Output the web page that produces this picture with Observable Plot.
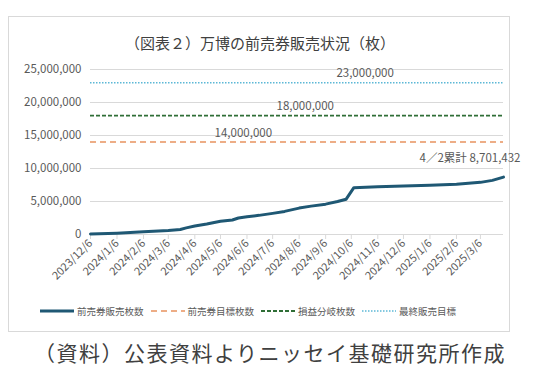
<!DOCTYPE html>
<html><head><meta charset="utf-8">
<script src="https://cdn.jsdelivr.net/npm/d3@7"></script>
<script src="https://cdn.jsdelivr.net/npm/@observablehq/plot@0.6"></script>
<style>
body{margin:0;background:#fff;font-family:"Noto Sans CJK JP","Noto Sans",sans-serif;}
#wrap{position:relative;width:540px;height:384px;overflow:hidden;}
#box{position:absolute;left:8px;top:16px;width:502px;height:316px;border:1px solid #d9d9d9;box-sizing:border-box;}
#title{position:absolute;left:0;width:520px;top:32px;text-align:center;font-size:15px;color:#404040;}
#chart{position:absolute;left:0;top:0;}
#legend{position:absolute;top:304px;left:40px;font-size:9.5px;color:#595959;display:flex;align-items:center;white-space:nowrap;}
#legend span.item{display:inline-flex;align-items:center;margin-right:7px;}
#legend svg{margin-right:3px;}
#caption{position:absolute;top:337px;left:34px;font-size:21px;letter-spacing:1.5px;color:#404040;white-space:nowrap;}
</style></head>
<body><div id="wrap">
<div id="box"></div>
<div id="title">（図表２）万博の前売券販売状況（枚）</div>
<div id="chart"></div>
<div id="legend"></div>
<div id="caption">（資料）公表資料よりニッセイ基礎研究所作成</div>
</div>
<script>
// sales observations (date, cumulative tickets)
const saleDates = ["2023-12-06","2024-01-06","2024-02-06","2024-03-06","2024-03-20","2024-03-27","2024-04-06","2024-04-20","2024-05-06","2024-05-20","2024-05-27","2024-06-06","2024-06-20","2024-07-06","2024-07-20","2024-08-06","2024-08-20","2024-09-06","2024-09-20","2024-09-30","2024-10-09","2024-11-06","2024-12-06","2025-01-06","2025-02-06","2025-03-06","2025-03-20","2025-04-02"];
const saleValues = [80000,200000,400000,600000,750000,1000000,1300000,1600000,2000000,2200000,2500000,2700000,2900000,3200000,3500000,4000000,4300000,4600000,5000000,5350000,7100000,7250000,7350000,7450000,7600000,7900000,8200000,8701432];
const seriesNames = ["前売券販売枚数","前売券目標枚数","損益分岐枚数","最終販売目標"];
const targetValues = [14000000,18000000,23000000];
const targetLabels = ["14,000,000","18,000,000","23,000,000"];
const xTickLabels = ["2023/12/6","2024/1/6","2024/2/6","2024/3/6","2024/4/6","2024/5/6","2024/6/6","2024/7/6","2024/8/6","2024/9/6","2024/10/6","2024/11/6","2024/12/6","2025/1/6","2025/2/6","2025/3/6"];
const yTicks = [0,5000000,10000000,15000000,20000000,25000000];
const totalLabel = "4／2累計 8,701,432";

const colors = ["#1f5874","#e8935f","#2f6e36","#5cb8d6"];
const dashes = [null,"6,4","4,2","1.5,1.5"];
const widths = [3,1.5,1.8,1.5];

const parse = d3.utcParse("%Y-%m-%d");
const parseTick = d3.utcParse("%Y/%m/%d");
const sales = saleDates.map((d,i)=>({date:parse(d), value:saleValues[i]}));
const x0 = parse(saleDates[0]), x1 = parse(saleDates[saleDates.length-1]);
const tickDates = xTickLabels.map(s=>parseTick(s));
const tickMap = new Map(tickDates.map((d,i)=>[+d,xTickLabels[i]]));

// label anchor positions along the horizontal lines (fraction of time span)
const labelFrac = [0.37,0.52,0.665];
const targets = targetValues.map((v,i)=>({value:v,label:targetLabels[i],
  date:new Date(+x0 + labelFrac[i]*(x1-x0)), color:colors[i+1], dash:dashes[i+1], w:widths[i+1]}));

const chart = Plot.plot({
  width:540, height:384,
  marginLeft:90, marginRight:37, marginTop:69, marginBottom:150,
  style:{fontFamily:'"Noto Sans CJK JP","Noto Sans",sans-serif', background:"transparent"},
  x:{type:"utc", domain:[x0,x1], label:null},
  y:{domain:[0,25000000], label:null},
  marks:[
    Plot.ruleY(yTicks.slice(1),{stroke:"#d9d9d9", strokeWidth:1}),
    Plot.axisY({ticks:yTicks, tickFormat:d3.format(","), tickSize:0, tickPadding:9, fontSize:11.5, fill:"#595959", label:null}),
    Plot.ruleY([0],{stroke:"#d9d9d9"}),
    Plot.axisX({ticks:tickDates, tickFormat:d=>tickMap.get(+d), tickRotate:-45, tickSize:5, tickPadding:2, fontSize:11, fill:"#595959", stroke:"#d9d9d9", label:null}),
    ...targets.map(t=>Plot.ruleY([t.value],{x1:x0, x2:x1, stroke:t.color, strokeWidth:t.w, strokeDasharray:t.dash})),
    Plot.text(targets,{x:"date", y:"value", text:"label", dy:-9, fontSize:11.5, fill:"#595959"}),
    Plot.line(sales,{x:"date", y:"value", stroke:colors[0], strokeWidth:widths[0], curve:"linear"}),
    Plot.text([sales[sales.length-1]],{x:"date", y:"value", text:()=>totalLabel, dx:17, dy:-19, textAnchor:"end", fontSize:11.5, fill:"#595959"})
  ]
});
document.getElementById("chart").appendChild(chart);

// legend
const leg = document.getElementById("legend");
seriesNames.forEach((n,i)=>{
  const s = document.createElement("span"); s.className="item";
  const w = 34;
  s.innerHTML = `<svg width="${w}" height="8"><line x1="0" x2="${w}" y1="4" y2="4" stroke="${colors[i]}" stroke-width="${widths[i]}" ${dashes[i]?`stroke-dasharray="${dashes[i]}"`:""}/></svg>${n}`;
  leg.appendChild(s);
});
</script>
</body></html>
